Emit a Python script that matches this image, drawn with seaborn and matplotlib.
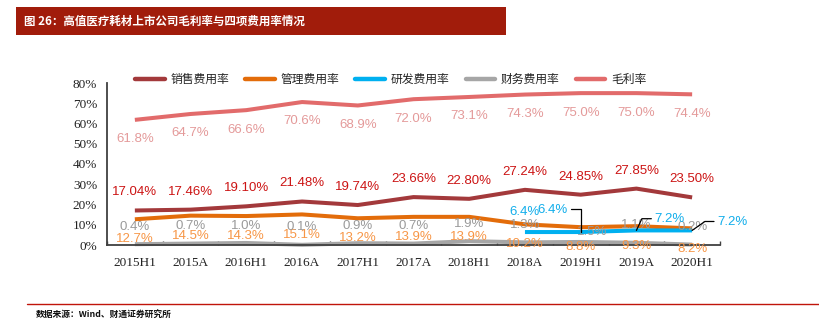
import numpy as np
import pandas as pd
import matplotlib
matplotlib.use("Agg")
import matplotlib.pyplot as plt
from matplotlib.lines import Line2D
from matplotlib.patches import Rectangle
from matplotlib.ticker import FuncFormatter, FixedLocator
import seaborn as sns

# ---- data ----
periods = ["2015H1", "2015A", "2016H1", "2016A", "2017H1", "2017A",
           "2018H1", "2018A", "2019H1", "2019A", "2020H1"]
sales_rate = [17.04, 17.46, 19.10, 21.48, 19.74, 23.66, 22.80, 27.24, 24.85, 27.85, 23.50]
admin_rate = [12.7, 14.5, 14.3, 15.1, 13.2, 13.9, 13.9, 10.2, 8.8, 9.3, 8.2]
rd_rate = [np.nan, np.nan, np.nan, np.nan, np.nan, np.nan, np.nan, 6.4, 6.4, 7.2, 7.2]
fin_rate = [0.4, 0.7, 1.0, 0.1, 0.9, 0.7, 1.9, 1.3, 1.5, 1.1, 0.2]
gross_margin = [61.8, 64.7, 66.6, 70.6, 68.9, 72.0, 73.1, 74.3, 75.0, 75.0, 74.4]

series_names = ["销售费用率", "管理费用率", "研发费用率", "财务费用率", "毛利率"]
series_values = [sales_rate, admin_rate, rd_rate, fin_rate, gross_margin]
line_colors = ["#A3393B", "#E36C0A", "#00B0F0", "#A6A6A6", "#E26B6B"]
label_colors = ["#CC1414", "#F79646", "#12AEEB", "#9A9A9A", "#E49A9A"]

rows = []
for name, vals in zip(series_names, series_values):
    for i, v in enumerate(vals):
        rows.append({"idx": i, "series": name, "value": v})
df = pd.DataFrame(rows)

# ---- figure ----
sns.set_theme(style="white")
plt.rcParams["font.family"] = ["Noto Sans CJK SC", "DejaVu Sans"]

fig = plt.figure(figsize=(8.19, 3.21), dpi=100)
ax = fig.add_axes([107 / 819, 1 - 245 / 321, 613 / 819, 162 / 321])

palette = dict(zip(series_names, line_colors))
sns.lineplot(data=df, x="idx", y="value", hue="series", hue_order=series_names,
             palette=palette, linewidth=2.9, legend=False, sort=False, ax=ax,
             solid_capstyle="butt")
for ln in ax.get_lines():
    ln.set_clip_on(False)

ax.set_xlim(-0.5, len(periods) - 0.5)
ax.set_ylim(0, 80)
ax.set_xlabel("")
ax.set_ylabel("")

# axes styling
for side in ["top", "right"]:
    ax.spines[side].set_visible(False)
for side in ["left", "bottom"]:
    ax.spines[side].set_color("#404040")
    ax.spines[side].set_linewidth(1.3)

serif = "Liberation Serif"
ax.set_yticks(np.arange(0, 81, 10))
ax.yaxis.set_major_formatter(FuncFormatter(lambda v, p: f"{int(v)}%"))
ax.set_xticks(range(len(periods)))
ax.set_xticklabels(periods)
ax.xaxis.set_minor_locator(FixedLocator(np.arange(-0.5, len(periods), 1.0)))
ax.tick_params(axis="y", which="major", direction="in", length=3, width=1,
               color="#404040", pad=7, labelsize=9.5, labelcolor="#222222")
ax.tick_params(axis="x", which="major", length=0, pad=9, labelsize=9.5,
               labelcolor="#222222")
ax.tick_params(axis="x", which="minor", direction="in", length=3, width=1,
               color="#404040", bottom=True)
for lab in ax.get_xticklabels() + ax.get_yticklabels():
    lab.set_fontfamily(serif)

# ---- value labels ----
label_font = dict(fontfamily="Liberation Sans", fontsize=9.5, ha="center", va="center")
offsets = {
    "销售费用率": (0, 13),
    "管理费用率": (0, -14.5),
    "财务费用率": (0, 12.5),
    "毛利率": (0, -14),
}
for name, vals, col in zip(series_names, series_values, label_colors):
    if name not in offsets:
        continue
    dx, dy = offsets[name]
    for i, v in enumerate(vals):
        if name == "财务费用率" and i == 8:
            ox, oy = 8.5, 7
        else:
            ox, oy = dx, dy
        dec = 2 if name == "销售费用率" else 1
        ax.annotate(f"{v:.{dec}f}%", (i, v), xytext=(ox, oy), textcoords="offset points",
                    color=col, zorder=5, **label_font)

# R&D labels, three of them with leader lines
rd_col = label_colors[2]
ax.annotate(f"{rd_rate[7]:.1f}%", (7, rd_rate[7]), xytext=(0, 14.5),
            textcoords="offset points", color=rd_col, zorder=5, **label_font)
leader = dict(arrowstyle="-", color="black", lw=0.9, shrinkA=0, shrinkB=0)
ax.annotate(f"{rd_rate[8]:.1f}%", (8, rd_rate[8]), xytext=(-20, 16),
            textcoords="offset points", color=rd_col, zorder=5,
            arrowprops=dict(connectionstyle="angle,angleA=0,angleB=90,rad=0",
                            relpos=(1.0, 0.55), **leader), **label_font)
ax.annotate(f"{rd_rate[9]:.1f}%", (9, rd_rate[9]), xytext=(24, 8),
            textcoords="offset points", color=rd_col, zorder=5,
            arrowprops=dict(connectionstyle="angle,angleA=0,angleB=65,rad=0",
                            relpos=(-0.05, 0.55), **leader), **label_font)
ax.annotate(f"{rd_rate[10]:.1f}%", (10, rd_rate[10]), xytext=(29, 6),
            textcoords="offset points", color=rd_col, zorder=5,
            arrowprops=dict(connectionstyle="angle,angleA=0,angleB=35,rad=0",
                            relpos=(-0.05, 0.55), **leader), **label_font)

# ---- legend ----
handles = [Line2D([0], [0], color=c, lw=3.2, solid_capstyle="round") for c in line_colors]
leg = ax.legend(handles, series_names, loc="center", bbox_to_anchor=(0.463, 1.02),
                ncol=5, frameon=False, handlelength=2.5,
                handletextpad=0.5, columnspacing=1.35,
                prop={"family": ["Noto Sans CJK SC"], "size": 8.5})
for t in leg.get_texts():
    t.set_color("#222222")

# ---- title bar ----
fig.patches.append(Rectangle((16 / 819, 1 - 35 / 321), 490 / 819, 28 / 321,
                             transform=fig.transFigure, facecolor="#A11C0B",
                             edgecolor="none", zorder=0))
fig.text(24 / 819, 1 - 21 / 321, "图 26：高值医疗耗材上市公司毛利率与四项费用率情况",
         color="white", fontsize=8.3, fontweight="bold", ha="left", va="center")

# ---- footer ----
fig.add_artist(Line2D([27 / 819, 1.0], [1 - 304 / 321] * 2, transform=fig.transFigure,
                      color="#C0140A", lw=1.0))
fig.text(36 / 819, 1 - 315 / 321, "数据来源：Wind、财通证券研究所",
         color="#111111", fontsize=6.3, fontweight="bold", ha="left", va="center")

fig.savefig("out.png", dpi=100)
